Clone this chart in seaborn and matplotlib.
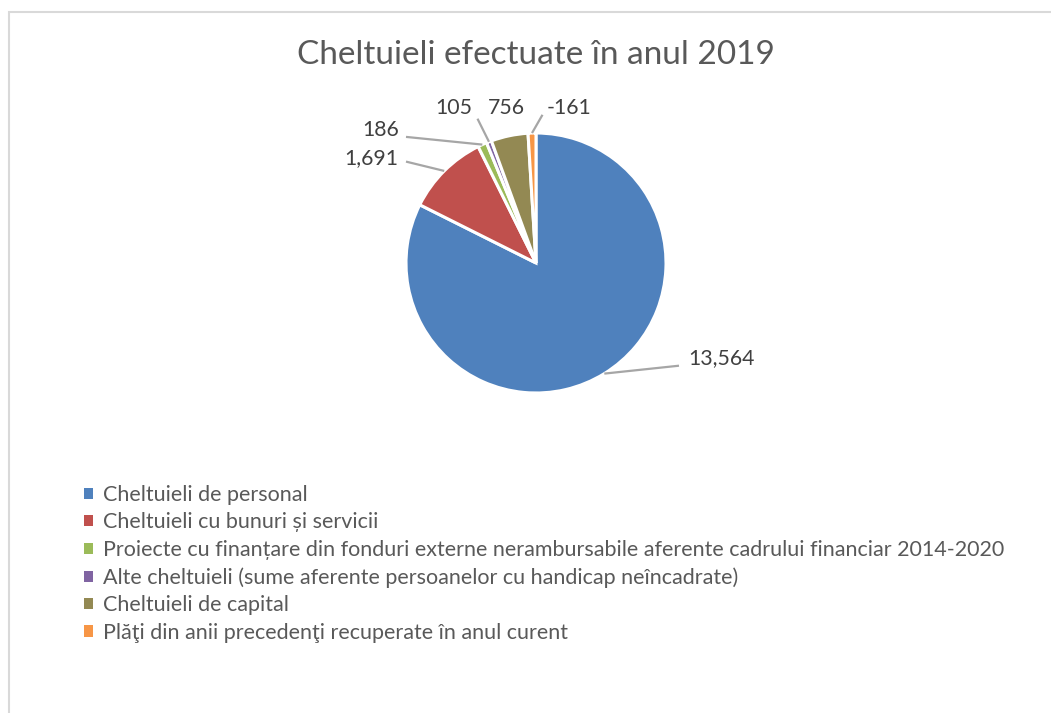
import numpy as np
import matplotlib
matplotlib.use("Agg")
import matplotlib.pyplot as plt
from matplotlib.patches import Patch, Rectangle
import seaborn as sns

# data
categories = [
    "Cheltuieli de personal",
    "Cheltuieli cu bunuri și servicii",
    "Proiecte cu finanțare din fonduri externe nerambursabile aferente cadrului financiar 2014-2020",
    "Alte cheltuieli (sume aferente persoanelor cu handicap neîncadrate)",
    "Cheltuieli de capital",
    "Plăţi din anii precedenţi recuperate în anul curent",
]
values = [13564, 1691, 186, 105, 756, -161]
colors = ["#4F81BD", "#C0504D", "#9BBB59", "#8064A2", "#938953", "#F79646"]

# label placement (data coords, pie radius = 1) and leader bends
label_pos = [(1.17, -0.73), (-1.06, 0.81), (-1.05, 1.02), (-0.63, 1.19), (-0.23, 1.19), (0.085, 1.19)]
label_ha = ["left", "right", "right", "center", "center", "left"]
elbow = [(1.1, -0.79), (-1.0, 0.78), (-1.0, 0.97), (-0.45, 1.11), None, (0.05, 1.14)]

sns.set_theme(style="white")
plt.rcParams["font.family"] = ["Lato", "DejaVu Sans"]
text_color = "#595959"

fig = plt.figure(figsize=(10.51, 7.13), dpi=100)
W, H = 1051, 713
cx, cy, r = 536, 263, 130
ax = fig.add_axes([(cx - r) / W, (H - cy - r) / H, 2 * r / W, 2 * r / H])

sizes = np.abs(values)
wedges, _ = ax.pie(sizes, colors=colors, startangle=90, counterclock=False, radius=1,
                   wedgeprops=dict(edgecolor="white", linewidth=2.2))
ax.set_xlim(-1, 1)
ax.set_ylim(-1, 1)
ax.set_aspect("equal")
ax.axis("off")

for w, v, pos, ha, el in zip(wedges, values, label_pos, label_ha, elbow):
    mid = np.deg2rad((w.theta1 + w.theta2) / 2)
    x0, y0 = 1.0 * np.cos(mid), 1.0 * np.sin(mid)
    if el is not None:
        ax.plot([x0, el[0]], [y0, el[1]], color="#A6A6A6", lw=1.6, clip_on=False,
                solid_capstyle="butt")
    ax.text(pos[0], pos[1], f"{v:,}", ha=ha, va="center", fontsize=15.3,
            color="#404040", clip_on=False)

fig.text(cx / W, 1 - 55 / H, "Cheltuieli efectuate în anul 2019", ha="center", va="center",
         fontsize=24, color=text_color)

handles = [Patch(facecolor=c, edgecolor="none") for c in colors]
fig.legend(handles, categories, loc="upper left", bbox_to_anchor=(84 / W, 1 - 485 / H),
           frameon=False, fontsize=15.5, labelcolor=text_color,
           handlelength=0.42, handleheight=0.42, handletextpad=0.45,
           labelspacing=0.345, borderpad=0, borderaxespad=0)

# chart area border (only left and top edges visible)
fig.add_artist(Rectangle((8.5 / W, -0.1), 1.2, 1.1 - 12.5 / H, transform=fig.transFigure,
                         fill=False, edgecolor="#D9D9D9", linewidth=1.5))

fig.savefig("out.png", dpi=100)
